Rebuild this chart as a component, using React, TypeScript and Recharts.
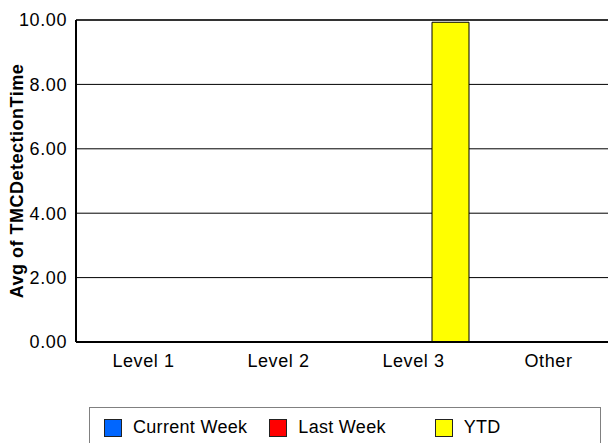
import { Bar, BarChart, CartesianGrid, ReferenceLine, XAxis, YAxis } from "recharts";

// Avg TMC detection time by level, three periods side by side.

const levels = ["Level 1", "Level 2", "Level 3", "Other"];
const currentWeek = [0, 0, 0, 0];
const lastWeek = [0, 0, 0, 0];
const ytd = [0, 0, 9.93, 0];
const yTicks = [0, 2, 4, 6, 8, 10];

const series = [
  { key: "current", name: "Current Week", color: "#0066ff" },
  { key: "last", name: "Last Week", color: "#ff0000" },
  { key: "ytd", name: "YTD", color: "#ffff00" },
];

const data = levels.map((level, i) => ({
  level,
  current: currentWeek[i],
  last: lastWeek[i],
  ytd: ytd[i],
}));

const font = "'Liberation Sans', Arial, sans-serif";
const tickStyle = { fill: "#000", fontSize: 18, fontFamily: font, letterSpacing: 0.6 };

function AxisTitle({ viewBox }: any) {
  const cy = viewBox.y + viewBox.height / 2;
  return (
    <text
      x={23}
      y={cy}
      transform={`rotate(-90 23 ${cy})`}
      textAnchor="middle"
      fontSize={18}
      fontWeight="bold"
      fontFamily={font}
      letterSpacing={0.5}
      fill="#000"
    >
      Avg of TMCDetectionTime
    </text>
  );
}

export default function App() {
  return (
    <div
      style={{
        position: "absolute",
        left: 0,
        top: 0,
        width: 608,
        height: 443,
        overflow: "hidden",
        background: "#fff",
        fontFamily: font,
      }}
    >
      <BarChart
        width={640}
        height={443}
        data={data}
        margin={{ top: 20, right: 24, left: 0, bottom: 71 }}
        barCategoryGap={12}
        barGap={0}
      >
        <CartesianGrid vertical={false} stroke="#000" />
        <XAxis
          dataKey="level"
          height={30}
          tickLine={false}
          tickSize={0}
          tickMargin={12}
          axisLine={{ stroke: "#000", strokeWidth: 2 }}
          tick={tickStyle}
        />
        <YAxis
          width={76}
          domain={[0, 10]}
          ticks={yTicks}
          tickFormatter={(v: number) => v.toFixed(2)}
          tickLine={false}
          tickSize={0}
          tickMargin={9}
          axisLine={{ stroke: "#000", strokeWidth: 2 }}
          tick={tickStyle}
          label={<AxisTitle />}
        />
        <ReferenceLine y={10} stroke="#333" strokeWidth={2} />
        {series.map((s) => (
          <Bar
            key={s.key}
            dataKey={s.key}
            name={s.name}
            fill={s.color}
            stroke="#000"
            strokeWidth={1}
            isAnimationActive={false}
          />
        ))}
      </BarChart>
      <div
        style={{
          position: "absolute",
          left: 89,
          top: 407,
          width: 512,
          height: 60,
          border: "1px solid #808080",
          boxSizing: "border-box",
          paddingLeft: 14,
          paddingTop: 10,
          display: "flex",
        }}
      >
        {series.map((s) => (
          <div key={s.key} style={{ width: 166.5, display: "flex", alignItems: "center", height: 19 }}>
            <span
              style={{
                display: "inline-block",
                width: 16,
                height: 16,
                background: s.color,
                border: "1px solid #222",
                marginRight: 11,
              }}
            />
            <span style={{ fontSize: 18, color: "#000", letterSpacing: 0.3 }}>{s.name}</span>
          </div>
        ))}
      </div>
    </div>
  );
}
